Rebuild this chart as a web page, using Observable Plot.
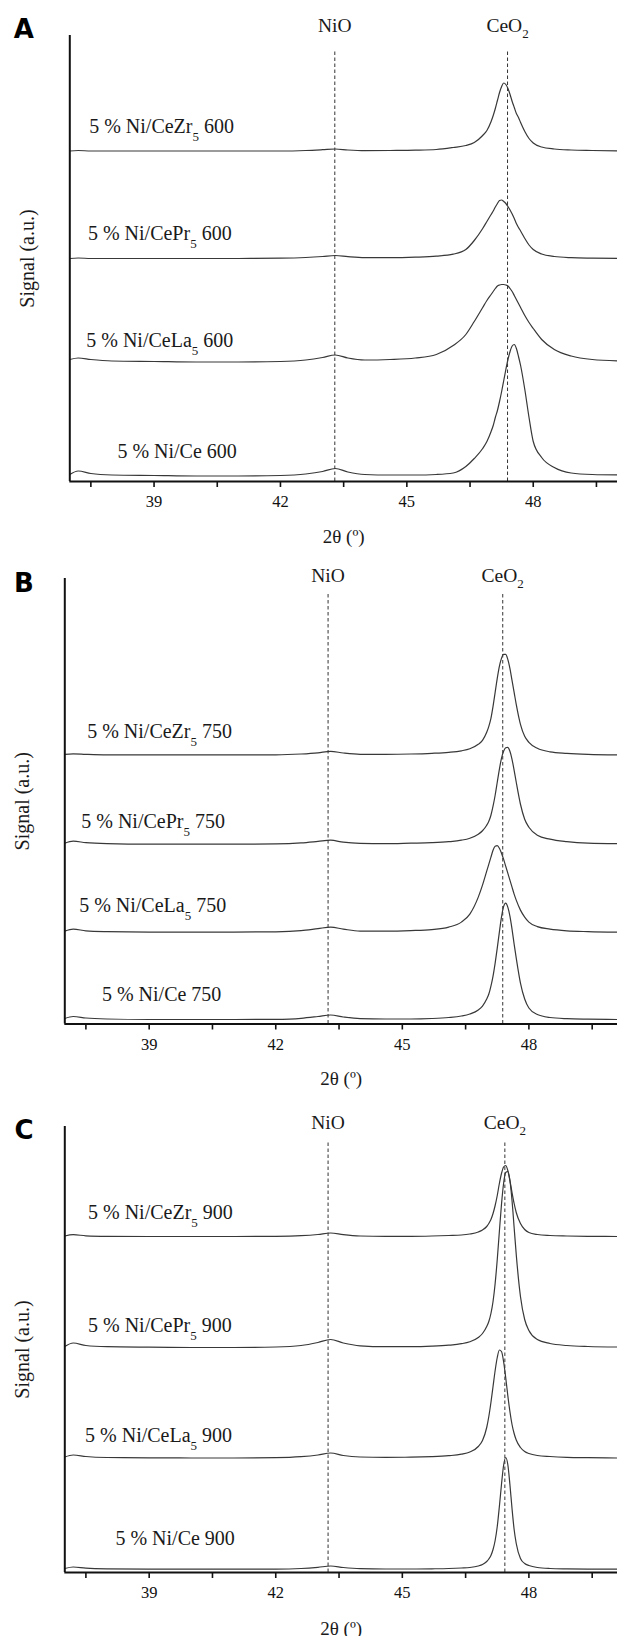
<!DOCTYPE html>
<html><head><meta charset="utf-8">
<script src="https://cdn.jsdelivr.net/npm/d3@7"></script>
<script src="https://cdn.jsdelivr.net/npm/@observablehq/plot@0.6"></script>
<style>
html,body{margin:0;padding:0;background:#fff;overflow:hidden;}
#chart{width:617px;height:1636px;position:relative;}
#chart svg{display:block;}
</style></head><body><div id="chart"></div>
<script>
// 2θ sampling positions (degrees)
const twoTheta = [37.0, 37.2, 37.5, 38.0, 39.0, 40.0, 41.0, 42.0,
  42.6, 43.0, 43.3, 43.6, 44.0,
  44.6, 45.2, 45.7, 46.1, 46.4,
  46.6, 46.8, 46.9, 47.0,
  47.05, 47.1, 47.15, 47.2, 47.25, 47.3, 47.35, 47.4, 47.45, 47.5, 47.55, 47.6, 47.65, 47.7,
  47.8, 47.9, 48.0, 48.2, 48.5, 48.9, 49.4, 50.1];

// Panel A — 600
const zr600 = [330.5, 331, 330.5, 330.5, 330.5, 330.5, 330.5, 330.5,
  331, 331.8, 332.5, 331.5, 330.8,
  331, 331.3, 332, 334, 336,
  339, 346, 351, 360,
  366, 373, 381, 389, 395, 398.5, 397, 393, 387, 380, 374, 368, 364, 359,
  350, 343, 338.5, 334.5, 332.5, 331.5, 331, 330.5];
const pr600 = [223, 223.5, 223, 223, 223, 223, 223, 223.3,
  224, 225, 226, 224.8, 223.8,
  223.8, 224.3, 225.3, 227.3, 232,
  241, 253, 260, 267,
  270.5, 274.5, 278, 281, 281.5, 280, 278, 275, 271.5, 267.5, 263, 258, 254, 250.5,
  243, 236.5, 232, 227.5, 225, 223.8, 223.3, 223];
const la600 = [122, 123.5, 122, 120.5, 120, 119.5, 119.5, 120,
  121.5, 124, 126.5, 123.5, 121.5,
  122, 123.5, 127, 136, 147,
  160, 174, 181, 187,
  190, 193, 195.5, 196.5, 197, 197, 196.5, 195.5, 193, 190, 186, 182, 178, 174,
  166, 159, 153, 142, 132, 125.5, 122, 120.5];
const ce600 = [7, 10.5, 8, 6.5, 6, 5.5, 5.5, 6,
  7.5, 10, 13, 9.5, 7,
  6.5, 6.5, 7, 8.5, 15,
  23, 33, 40, 50,
  56, 64, 71, 80, 90, 101, 112, 122, 130, 135.5, 137, 133, 125, 116,
  92, 64, 40, 24, 14, 8.5, 7, 6.5];

// Panel B — 750
const zr750 = [270, 270.5, 270, 269.5, 269.5, 269.5, 269.5, 269.5,
  270.3, 271.5, 273, 271.3, 270,
  270, 270.3, 271, 272, 273.5,
  275.5, 280, 284, 292,
  298, 306, 318, 332, 346, 358, 366, 370, 370, 365, 356, 344, 332, 320,
  300, 288, 282, 276, 272.5, 271, 270, 269.5];
const pr750 = [181, 183, 181.5, 180.5, 180, 180, 180, 180.3,
  181.3, 182.8, 184, 182, 180.8,
  180.5, 181, 181.5, 182.5, 184,
  186, 190, 193.5, 199,
  203, 209, 218, 229, 242, 255, 266, 273, 276.5, 277, 273, 265, 254, 242,
  220, 205, 197, 189, 185, 182.5, 181, 180.5];
const la750 = [93, 95, 93.3, 92.5, 92, 92, 92, 92.3,
  93.5, 95.5, 97, 95, 93,
  93, 93.5, 94.5, 97, 102,
  110, 127, 139, 153,
  160, 167, 174, 178, 178.5, 176, 171, 165, 158, 151, 144, 137, 130, 124,
  114, 107, 102, 97.5, 95, 93.3, 92.5, 92];
const ce750 = [5.5, 7.5, 6, 5, 4.5, 4.5, 4.5, 4.7,
  5.7, 7.5, 9, 7, 5.3,
  5, 5, 5.5, 6.5, 8,
  10, 14, 18, 25,
  30, 38, 48, 61, 76, 92, 107, 117.5, 121, 117, 108, 95, 80, 66,
  41, 25, 16, 9.5, 6.5, 5.3, 4.8, 4.5];

// Panel C — 900
const zr900 = [336.5, 337.8, 336.7, 336.2, 336, 336, 336, 336.2,
  336.8, 338, 339.5, 337.8, 336.5,
  336.2, 336.2, 336.5, 337, 337.5,
  338.5, 340.5, 342.5, 346,
  349, 353, 359, 367, 377, 389, 399, 405.5, 407, 402, 392, 380, 369, 360,
  349, 343, 340, 338, 337, 336.5, 336.2, 336];
const pr900 = [226, 229.5, 227, 225.8, 225.3, 225, 225, 225.5,
  227, 230, 233, 229.5, 226.7,
  225.8, 225.8, 226.3, 227.3, 228.8,
  230.8, 235, 239, 246,
  251, 259, 271, 289, 313, 341, 368, 389, 400, 401, 392, 372, 345, 318,
  276, 253, 242, 233, 229, 227, 226, 225.5];
const la900 = [115.5, 117.5, 116, 115, 114.7, 114.5, 114.5, 114.8,
  115.8, 117.5, 119.5, 117, 115.5,
  115.2, 115.3, 115.8, 116.8, 118.3,
  120.5, 126, 132, 145,
  156, 170, 186, 202, 215, 222.5, 221, 211, 195, 177, 161, 148, 139, 132.5,
  125, 121, 119, 117, 116, 115.2, 114.8, 114.5];
const ce900 = [4, 5.5, 4.3, 3.6, 3.3, 3.3, 3.3, 3.4,
  4, 5.2, 6.5, 5, 3.8,
  3.5, 3.5, 3.7, 4, 4.5,
  5, 6.5, 8, 11,
  13.5, 17, 23, 32, 46, 66, 88, 107, 115, 108, 88, 64, 43, 29,
  14, 9, 7, 5, 4, 3.6, 3.4, 3.3];

// Curve labels and where they sit (2θ, signal)
const labels600 = ["5 % Ni/CeZr₅ 600", "5 % Ni/CePr₅ 600", "5 % Ni/CeLa₅ 600", "5 % Ni/Ce 600"];
const labels750 = ["5 % Ni/CeZr₅ 750", "5 % Ni/CePr₅ 750", "5 % Ni/CeLa₅ 750", "5 % Ni/Ce 750"];
const labels900 = ["5 % Ni/CeZr₅ 900", "5 % Ni/CePr₅ 900", "5 % Ni/CeLa₅ 900", "5 % Ni/Ce 900"];
const labelTheta600 = [37.46, 37.43, 37.39, 38.13];
const labelSignal600 = [355, 247.5, 141, 30];
const labelTheta750 = [37.53, 37.39, 37.34, 37.88];
const labelSignal750 = [293, 203, 118.5, 29];
const labelTheta900 = [37.55, 37.55, 37.48, 38.2];
const labelSignal900 = [360, 247, 137, 34];

// Reference phases
const phaseNames = ["NiO", "CeO₂"];
const phaseTheta600 = [43.29, 47.39];
const phaseTheta750 = [43.24, 47.38];
const phaseTheta900 = [43.24, 47.43];

const tickValues = [37.5, 39, 40.5, 42, 43.5, 45, 46.5, 48, 49.5];
const tickLabels = [39, 42, 45, 48];

const SERIF = '"Liberation Serif","Times New Roman",serif';

function applySubscripts(svg) {
  for (const t of svg.querySelectorAll("text")) {
    const s = t.textContent;
    if (!/[\u2080-\u2089]/.test(s) || t.querySelector("tspan")) continue;
    const drop = s.startsWith("CeO") ? 6 : 8;
    t.textContent = "";
    let shifted = false;
    for (const p of s.split(/([\u2080-\u2089])/)) {
      if (!p) continue;
      const ts = document.createElementNS("http://www.w3.org/2000/svg", "tspan");
      if (/[\u2080-\u2089]/.test(p)) {
        ts.textContent = String.fromCharCode(p.charCodeAt(0) - 0x2080 + 48);
        ts.setAttribute("font-size", "13");
        ts.setAttribute("dy", drop);
        shifted = true;
      } else {
        ts.textContent = p;
        if (shifted) { ts.setAttribute("dy", -drop); shifted = false; }
      }
      t.appendChild(ts);
    }
  }
}

function makePanel(cfg) {
  const rows = [];
  cfg.series.forEach((arr, i) => arr.forEach((v, j) => rows.push({t: twoTheta[j], v, s: i})));
  const svg = Plot.plot({
    width: 617, height: cfg.height,
    marginLeft: cfg.ml, marginRight: 0, marginTop: cfg.mt, marginBottom: cfg.mb,
    x: {domain: cfg.xDomain},
    y: {domain: [0, 446], axis: null},
    style: {fontFamily: SERIF, background: "#fff", color: "#111", overflow: "visible"},
    marks: [
      Plot.ruleX(cfg.phaseTheta, {y1: 0, y2: cfg.dashTop, stroke: "#333", strokeWidth: 1, strokeDasharray: "3.5,2.5"}),
      Plot.line(rows, {x: "t", y: "v", z: "s", curve: "monotone-x", stroke: "#383838", strokeWidth: 1.2}),
      Plot.ruleY([0], {stroke: "#111", strokeWidth: 2}),
      Plot.ruleX([37], {y1: 0, y2: 446, stroke: "#111", strokeWidth: 2}),
      Plot.axisX({ticks: tickValues, tickFormat: d => tickLabels.includes(d) ? String(d) : "",
        tickSize: 6, tickPadding: 8, strokeWidth: 1.6, fontSize: 16.5, fontFamily: SERIF, label: null, fill: "#111"}),
      Plot.text(cfg.labels, {x: (d, i) => cfg.lt[i], y: (d, i) => cfg.ls[i], text: d => d,
        textAnchor: "start", lineAnchor: "middle", fontSize: 20, fontFamily: SERIF, fill: "#1a1a1a"}),
      Plot.text(phaseNames, {x: (d, i) => cfg.phaseTheta[i], y: cfg.phaseY, text: d => d,
        textAnchor: "middle", lineAnchor: "middle", fontSize: 19.5, fontFamily: SERIF, fill: "#1a1a1a"}),
      Plot.text([cfg.letter], {frameAnchor: "top-left", dx: cfg.letterDx, dy: cfg.letterDy,
        textAnchor: "middle", lineAnchor: "middle", fontFamily: '"DejaVu Sans",sans-serif',
        fontWeight: "bold", fontSize: 26, fill: "#000"}),
      Plot.text(["Signal (a.u.)"], {frameAnchor: "left", rotate: -90, dx: cfg.ytDx,
        textAnchor: "middle", lineAnchor: "middle", fontSize: 20, fontFamily: SERIF, fill: "#1a1a1a"}),
      Plot.text(["2θ (º)"], {frameAnchor: "bottom", dy: cfg.xtDy,
        textAnchor: "middle", lineAnchor: "middle", fontSize: 19, fontFamily: SERIF, fill: "#1a1a1a"})
    ]
  });
  applySubscripts(svg);
  return svg;
}

const chart = document.getElementById("chart");
chart.appendChild(makePanel({
  letter: "A", height: 547, ml: 69.3, mt: 35, mb: 66, xDomain: [37, 50],
  series: [zr600, pr600, la600, ce600], labels: labels600, lt: labelTheta600, ls: labelSignal600,
  phaseTheta: phaseTheta600, phaseY: 456, dashTop: 431,
  letterDx: -45.9, letterDy: -5.5, ytDx: -42.6, xtDy: 55
}));
chart.appendChild(makePanel({
  letter: "B", height: 547, ml: 64.3, mt: 31, mb: 70.5, xDomain: [37, 50.1],
  series: [zr750, pr750, la750, ce750], labels: labels750, lt: labelTheta750, ls: labelSignal750,
  phaseTheta: phaseTheta750, phaseY: 448.5, dashTop: 430,
  letterDx: -40.8, letterDy: 5, ytDx: -42.7, xtDy: 54.5
}));
chart.appendChild(makePanel({
  letter: "C", height: 542, ml: 64.3, mt: 32, mb: 64, xDomain: [37, 50.1],
  series: [zr900, pr900, la900, ce900], labels: labels900, lt: labelTheta900, ls: labelSignal900,
  phaseTheta: phaseTheta900, phaseY: 449.5, dashTop: 432,
  letterDx: -40.7, letterDy: 4.5, ytDx: -42.7, xtDy: 56
}));
</script></body></html>
